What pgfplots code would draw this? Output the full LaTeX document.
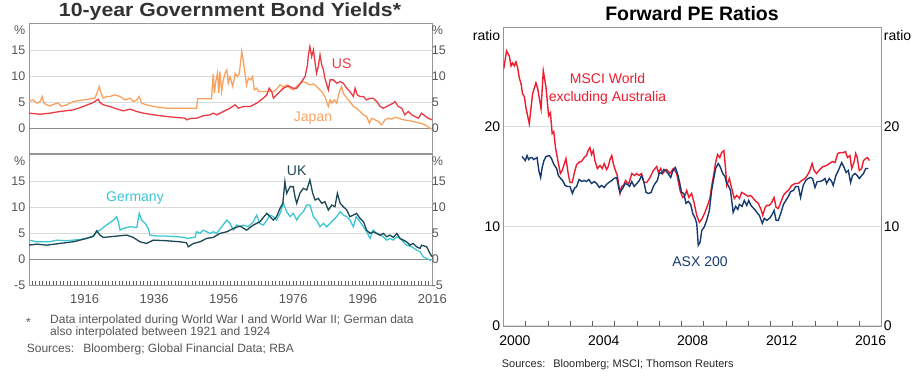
\documentclass[border=0pt]{standalone}
\usepackage{pgfplots}
\pgfplotsset{compat=1.18}
\usepackage{fontspec}
\setmainfont{Liberation Sans}
\definecolor{usred}{RGB}{234,58,66}
\definecolor{jporange}{RGB}{249,162,96}
\definecolor{decyan}{RGB}{60,198,210}
\definecolor{ukdark}{RGB}{28,72,86}
\definecolor{mscired}{RGB}{237,28,46}
\definecolor{asxblue}{RGB}{22,58,112}
\definecolor{framegray}{RGB}{150,150,150}
\definecolor{tickgray}{RGB}{95,95,95}
\definecolor{gridgray}{RGB}{218,218,218}
\definecolor{zerogray}{RGB}{140,140,140}
\definecolor{labgray}{RGB}{85,85,85}
\definecolor{titlegray}{RGB}{50,50,50}

\pgfplotsset{
  leftbase/.style={
    scale only axis, width=403.3pt, height=130.8pt,
    xmin=1900, xmax=2016, ymin=-5, ymax=20.3,
    axis line style={draw=framegray, line width=1pt},
    ytick={0,5,10,15},
    extra y ticks={19}, extra y tick labels={\%},
    extra y tick style={grid=none},
    ytick style={draw=none},
    tick label style={font=\fontsize{12.5}{14}\selectfont, text=labgray},
    yticklabel style={inner sep=0pt, xshift=-3.5pt},
    /pgf/number format/assume math mode=true,
  },
  leftright/.style={
    leftbase,
    axis line style={draw=none},
    xtick=\empty,
    yticklabel pos=right,
    yticklabel style={inner sep=0pt, xshift=2.8pt, anchor=west},
  },
}

\begin{document}
\begin{tikzpicture}
\path[use as bounding box] (0pt,0pt) rectangle (912pt,378pt);

% ---------------- Top-left panel: US and Japan
\begin{axis}[leftbase, at={(29pt,224pt)}, anchor=south west,
  xtick=\empty, ymajorgrids, grid style={draw=gridgray, line width=1pt}]
\draw[zerogray, line width=1pt] (axis cs:1900,0) -- (axis cs:2016,0);
\addplot[jporange, line width=1.3pt] coordinates {
(1900.0,5.15)(1901.2,5.47)(1902.2,4.83)(1903.2,5.15)(1903.8,6.12)(1904.3,4.83)
(1905.1,4.51)(1906.0,4.31)(1907.5,4.70)(1908.4,4.83)(1909.4,4.19)(1910.8,4.51)
(1912.8,5.15)(1915.6,5.47)(1919.0,5.80)(1919.7,7.08)(1920.2,8.05)(1920.7,6.76)
(1921.4,5.80)(1922.3,6.12)(1923.3,6.12)(1924.7,6.44)(1926.2,6.12)(1927.6,5.47)
(1929.1,5.80)(1930.0,5.15)(1931.0,5.47)(1931.7,6.12)(1932.4,4.83)(1933.8,4.51)
(1935.8,4.19)(1939.6,3.86)(1945.3,3.86)(1948.2,3.86)(1948.5,5.67)(1952.5,5.67)
(1953.0,10.50)(1953.3,6.76)(1953.8,9.34)(1954.2,10.62)(1954.6,6.76)(1954.9,10.95)
(1955.4,7.08)(1955.9,9.34)(1956.4,10.62)(1956.9,11.27)(1957.3,8.69)(1957.8,9.98)
(1958.6,8.05)(1959.3,10.62)(1959.9,9.98)(1960.5,10.62)(1961.2,14.81)(1961.6,13.20)
(1962.1,10.62)(1962.6,8.37)(1963.1,9.66)(1963.8,9.34)(1964.3,9.98)(1964.8,7.40)
(1965.5,7.73)(1966.0,7.08)(1966.4,7.08)(1968.4,7.08)(1970.3,7.08)(1971.2,7.53)
(1972.2,8.37)(1973.2,7.92)(1974.1,8.37)(1975.1,7.73)(1976.0,7.40)(1977.5,8.37)
(1978.9,9.01)(1979.9,8.69)(1980.8,8.37)(1981.8,8.56)(1982.7,8.05)(1983.2,7.73)
(1984.2,7.08)(1985.1,6.12)(1986.1,4.19)(1986.6,5.47)(1987.1,4.83)(1987.8,5.47)
(1988.5,4.83)(1989.3,7.08)(1989.9,8.05)(1990.4,6.76)(1991.4,5.80)(1992.3,5.15)
(1993.3,4.19)(1994.2,3.86)(1995.2,3.22)(1996.2,2.58)(1997.1,2.25)(1997.9,0.97)
(1998.6,1.93)(1999.5,1.61)(2000.5,1.29)(2001.4,0.64)(2002.4,1.61)(2003.4,1.93)
(2004.3,1.74)(2005.3,2.12)(2006.2,1.93)(2007.7,1.61)(2009.1,1.48)(2010.5,1.29)
(2012.5,0.97)(2013.9,0.64)(2015.3,0.00)(2016.0,-0.19)
};
\addplot[usred, line width=1.3pt] coordinates {
(1900.0,2.90)(1903.2,2.70)(1906.0,2.90)(1908.9,3.22)(1912.8,3.54)(1915.6,4.19)
(1918.5,4.96)(1919.9,5.60)(1920.4,4.96)(1921.4,4.51)(1923.3,4.19)(1925.2,3.73)
(1927.1,3.35)(1929.1,3.67)(1931.0,3.22)(1932.9,2.90)(1935.8,2.58)(1939.6,2.25)
(1942.5,2.06)(1944.9,1.93)(1945.3,1.61)(1946.8,1.93)(1948.2,1.93)(1950.1,2.38)
(1952.1,2.58)(1953.0,2.90)(1954.0,2.58)(1955.9,3.22)(1957.8,3.86)(1959.3,4.51)
(1960.2,3.86)(1961.7,4.19)(1963.6,4.19)(1965.5,4.83)(1967.4,5.80)(1968.4,6.44)
(1969.1,7.73)(1969.8,7.08)(1970.3,5.80)(1971.2,6.44)(1972.2,7.08)(1973.2,7.73)
(1974.6,8.18)(1976.0,7.73)(1977.0,7.73)(1978.4,9.01)(1979.4,9.98)(1980.1,12.23)
(1980.3,13.84)(1980.8,15.78)(1981.3,13.84)(1981.8,15.13)(1982.3,12.56)(1982.7,10.62)
(1983.2,11.91)(1983.7,14.17)(1984.2,12.23)(1984.7,11.27)(1985.1,9.66)(1986.1,7.40)
(1986.6,9.34)(1987.5,9.34)(1988.5,8.69)(1989.5,9.01)(1990.4,8.69)(1991.4,7.73)
(1992.3,7.08)(1993.3,6.12)(1993.8,7.73)(1994.4,6.44)(1995.2,6.12)(1996.2,6.12)
(1997.1,5.47)(1998.1,5.80)(1999.0,5.80)(2000.0,5.15)(2001.0,4.19)(2001.9,3.86)
(2002.9,4.19)(2003.8,4.51)(2004.8,4.83)(2005.3,5.15)(2006.2,4.19)(2007.2,3.86)
(2008.1,2.58)(2009.1,3.22)(2010.1,2.58)(2011.0,2.25)(2012.0,1.93)(2012.9,2.90)
(2013.9,2.38)(2014.8,1.93)(2016.0,1.61)
};
\end{axis}
\begin{axis}[leftright, at={(29pt,224pt)}, anchor=south west]
\end{axis}

% ---------------- Bottom-left panel: Germany and UK
\begin{axis}[leftbase, at={(29pt,93pt)}, anchor=south west,
  ytick={-5,0,5,10,15},
  ymajorgrids, grid style={draw=gridgray, line width=1pt},
  xtick={1916,1936,1956,1976,1996,2016},
  xtick style={draw=none},
  xticklabel style={inner sep=0pt, yshift=-9pt, font=\fontsize{13}{15}\selectfont},
  x tick label style={/pgf/number format/1000 sep={}},
]
\draw[zerogray, line width=1pt] (axis cs:1900,0) -- (axis cs:2016,0);
% yearly tick marks on the bottom axis
\addplot[only marks, mark=|, mark size=2pt, mark options={draw=tickgray, line width=1pt}] coordinates {
(1901,-4.61)(1902,-4.61)(1903,-4.61)(1904,-4.61)(1905,-4.61)(1906,-4.61)(1907,-4.61)(1908,-4.61)(1909,-4.61)(1910,-4.61)
(1911,-4.61)(1912,-4.61)(1913,-4.61)(1914,-4.61)(1915,-4.61)(1916,-4.61)(1917,-4.61)(1918,-4.61)(1919,-4.61)(1920,-4.61)
(1921,-4.61)(1922,-4.61)(1923,-4.61)(1924,-4.61)(1925,-4.61)(1926,-4.61)(1927,-4.61)(1928,-4.61)(1929,-4.61)(1930,-4.61)
(1931,-4.61)(1932,-4.61)(1933,-4.61)(1934,-4.61)(1935,-4.61)(1936,-4.61)(1937,-4.61)(1938,-4.61)(1939,-4.61)(1940,-4.61)
(1941,-4.61)(1942,-4.61)(1943,-4.61)(1944,-4.61)(1945,-4.61)(1946,-4.61)(1947,-4.61)(1948,-4.61)(1949,-4.61)(1950,-4.61)
(1951,-4.61)(1952,-4.61)(1953,-4.61)(1954,-4.61)(1955,-4.61)(1956,-4.61)(1957,-4.61)(1958,-4.61)(1959,-4.61)(1960,-4.61)
(1961,-4.61)(1962,-4.61)(1963,-4.61)(1964,-4.61)(1965,-4.61)(1966,-4.61)(1967,-4.61)(1968,-4.61)(1969,-4.61)(1970,-4.61)
(1971,-4.61)(1972,-4.61)(1973,-4.61)(1974,-4.61)(1975,-4.61)(1976,-4.61)(1977,-4.61)(1978,-4.61)(1979,-4.61)(1980,-4.61)
(1981,-4.61)(1982,-4.61)(1983,-4.61)(1984,-4.61)(1985,-4.61)(1986,-4.61)(1987,-4.61)(1988,-4.61)(1989,-4.61)(1990,-4.61)
(1991,-4.61)(1992,-4.61)(1993,-4.61)(1994,-4.61)(1995,-4.61)(1996,-4.61)(1997,-4.61)(1998,-4.61)(1999,-4.61)(2000,-4.61)
(2001,-4.61)(2002,-4.61)(2003,-4.61)(2004,-4.61)(2005,-4.61)(2006,-4.61)(2007,-4.61)(2008,-4.61)(2009,-4.61)(2010,-4.61)
(2011,-4.61)(2012,-4.61)(2013,-4.61)(2014,-4.61)(2015,-4.61)
};
\addplot[decyan, line width=1.3pt] coordinates {
(1900.0,3.68)(1902.2,3.36)(1906.0,3.36)(1908.0,3.68)(1910.8,3.56)(1914.7,3.81)
(1918.5,4.33)(1919.5,5.30)(1920.4,5.62)(1922.3,6.59)(1924.3,7.56)(1925.2,8.21)
(1925.7,7.24)(1926.2,5.62)(1927.1,5.95)(1929.1,6.27)(1931.0,6.14)(1931.7,8.86)
(1932.4,7.56)(1933.4,6.92)(1934.3,5.95)(1934.8,4.65)(1936.7,4.46)(1939.6,4.46)
(1942.5,4.33)(1944.9,4.20)(1945.3,4.01)(1947.7,4.20)(1948.2,5.30)(1949.2,4.98)
(1950.1,5.62)(1951.1,5.30)(1952.1,4.98)(1953.0,5.30)(1954.0,4.98)(1955.4,6.27)
(1956.9,7.56)(1957.8,6.92)(1958.8,5.62)(1959.7,6.59)(1960.7,6.27)(1961.6,6.59)
(1963.1,6.27)(1964.5,7.24)(1965.5,8.53)(1966.3,6.92)(1967.4,6.59)(1968.4,7.56)
(1969.3,8.53)(1970.3,8.21)(1971.2,7.56)(1972.2,8.86)(1973.2,10.80)(1974.1,9.18)
(1975.1,8.21)(1976.0,8.86)(1977.0,7.56)(1977.9,8.53)(1978.9,9.18)(1979.9,10.47)
(1980.8,10.47)(1981.8,8.21)(1982.7,7.56)(1983.7,6.27)(1984.7,6.92)(1985.6,6.27)
(1986.6,6.92)(1987.5,7.56)(1988.5,8.21)(1989.5,9.18)(1990.4,8.53)(1991.4,8.21)
(1992.3,7.56)(1993.3,6.27)(1994.1,8.21)(1995.2,7.24)(1996.2,6.27)(1997.1,5.30)
(1998.1,4.01)(1999.0,5.62)(2000.0,4.98)(2001.0,4.65)(2001.9,4.33)(2002.9,3.68)
(2003.8,4.01)(2004.8,3.68)(2005.8,4.33)(2006.7,4.01)(2007.7,3.36)(2008.6,2.71)
(2010.1,2.39)(2011.5,1.75)(2012.5,1.42)(2013.4,0.45)(2014.4,0.13)(2015.3,-0.19)
(2016.0,-0.06)
};
\addplot[ukdark, line width=1.3pt] coordinates {
(1900.0,2.71)(1902.2,2.91)(1905.1,2.71)(1908.9,3.04)(1912.8,3.36)(1916.6,4.01)
(1918.5,4.46)(1919.5,5.49)(1920.4,4.65)(1921.4,4.20)(1923.3,4.33)(1925.2,4.46)
(1928.1,4.65)(1930.0,4.20)(1931.9,3.36)(1933.8,3.04)(1935.8,3.68)(1939.6,3.56)
(1943.4,3.36)(1945.3,3.17)(1945.8,2.39)(1947.3,3.04)(1949.2,3.36)(1951.1,4.01)
(1953.0,4.20)(1954.9,4.98)(1956.9,5.30)(1958.8,5.95)(1960.7,6.40)(1962.6,5.62)
(1964.5,6.59)(1966.4,7.24)(1968.4,8.86)(1969.3,8.21)(1970.3,7.56)(1971.2,8.21)
(1972.2,9.83)(1973.0,10.80)(1973.6,15.00)(1974.1,12.73)(1975.1,14.03)(1976.0,14.03)
(1976.5,12.09)(1977.0,10.80)(1977.9,12.73)(1978.9,13.70)(1979.9,13.38)(1980.8,15.32)
(1981.6,12.73)(1982.3,11.44)(1983.2,11.76)(1984.2,10.80)(1985.1,11.12)(1986.1,9.50)
(1987.1,10.47)(1988.0,10.15)(1988.7,12.73)(1989.5,10.80)(1990.4,10.15)(1991.4,9.50)
(1992.3,8.21)(1993.3,8.53)(1994.2,8.86)(1995.2,7.89)(1996.2,7.24)(1997.1,5.62)
(1998.1,4.98)(1999.0,5.30)(2000.0,4.98)(2001.0,4.65)(2001.9,4.98)(2002.9,4.33)
(2003.8,4.65)(2004.8,4.20)(2005.8,4.98)(2006.7,4.01)(2007.7,3.68)(2008.6,3.36)
(2009.6,2.71)(2010.5,3.04)(2011.5,2.39)(2012.5,2.07)(2012.9,2.71)(2014.4,2.39)
(2015.3,1.10)(2016.0,0.45)
};
\end{axis}
\begin{axis}[leftright, at={(29pt,93pt)}, anchor=south west, ytick={-5,0,5,10,15}]
\end{axis}

% series labels (left)
\node[text=usred, font=\fontsize{14}{16}\selectfont] at (341.7pt,314.7pt) {US};
\node[text=jporange, font=\fontsize{14}{16}\selectfont] at (313pt,260pt) {Japan};
\node[text=decyan, font=\fontsize{14}{16}\selectfont] at (135pt,180pt) {Germany};
\node[text=ukdark, font=\fontsize{14}{16}\selectfont] at (296.7pt,207.3pt) {UK};

% left title and notes
\node[text=titlegray, font=\fontsize{19}{21}\selectfont\bfseries] at (230pt,366pt) {\scalebox{1.12}[1]{10-year Government Bond Yields*}};
\node[text=labgray, font=\fontsize{12}{13}\selectfont, anchor=center] at (28.5pt,56pt) {*};
\node[text=labgray, font=\fontsize{12}{13}\selectfont, anchor=west, inner sep=0pt] at (50pt,57.3pt) {Data interpolated during World War I and World War II; German data};
\node[text=labgray, font=\fontsize{12}{13}\selectfont, anchor=west, inner sep=0pt] at (50pt,45.3pt) {also interpolated between 1921 and 1924};
\node[text=labgray, font=\fontsize{12}{13}\selectfont, anchor=west, inner sep=0pt] at (26.7pt,28.7pt) {Sources:\hspace{9pt}Bloomberg; Global Financial Data; RBA};

% ---------------- Right panel: Forward PE ratios
\begin{axis}[scale only axis, at={(503.7pt,52pt)}, anchor=south west,
  width=378pt, height=299pt,
  xmin=2000, xmax=2017, ymin=0, ymax=30,
  axis line style={draw=framegray, line width=1pt},
  xtick={2000.5,2004.5,2008.5,2012.5,2016.5},
  xticklabels={2000,2004,2008,2012,2016},
  xtick style={draw=none},
  ytick={0,10,20}, ytick style={draw=none},
  extra y ticks={29.1}, extra y tick labels={ratio},
  extra y tick style={grid=none},
  ymajorgrids, grid style={draw=gridgray, line width=1.2pt},
  tick label style={font=\fontsize{14}{16}\selectfont, text=black},
  xticklabel style={inner sep=0pt, yshift=-10pt},
  yticklabel style={inner sep=0pt, xshift=-3.4pt},
  /pgf/number format/assume math mode=true,
]
% yearly tick marks on the bottom axis
\addplot[only marks, mark=|, mark size=2.6pt, mark options={draw=tickgray, line width=1pt}] coordinates {
(2001,0.26)(2002,0.26)(2003,0.26)(2004,0.26)(2005,0.26)(2006,0.26)(2007,0.26)(2008,0.26)
(2009,0.26)(2010,0.26)(2011,0.26)(2012,0.26)(2013,0.26)(2014,0.26)(2015,0.26)(2016,0.26)
};
\addplot[mscired, line width=1.4pt] coordinates {
(2000.00,25.8)(2000.13,27.6)(2000.25,27.1)(2000.33,26.1)(2000.40,26.4)(2000.48,26.1)
(2000.55,26.5)(2000.63,25.9)(2000.70,24.9)(2000.78,24.3)(2000.85,23.3)(2000.93,23.0)
(2001.00,21.9)(2001.15,20.3)(2001.23,21.9)(2001.30,23.3)(2001.45,24.4)(2001.53,23.8)
(2001.68,21.8)(2001.78,25.6)(2001.90,24.0)(2002.02,21.1)(2002.10,21.4)(2002.18,19.3)
(2002.25,19.5)(2002.33,17.9)(2002.46,16.3)(2002.55,15.3)(2002.63,15.6)(2002.80,16.8)
(2002.90,15.3)(2002.98,14.4)(2003.08,14.4)(2003.18,15.4)(2003.28,16.2)(2003.43,16.5)
(2003.50,16.5)(2003.62,16.9)(2003.72,17.1)(2003.80,17.6)(2003.88,17.9)(2003.95,17.2)
(2004.03,17.6)(2004.10,16.6)(2004.21,15.8)(2004.33,16.1)(2004.43,15.8)(2004.52,16.3)
(2004.63,15.7)(2004.70,16.0)(2004.78,16.7)(2004.86,17.1)(2004.93,16.3)(2005.01,15.7)
(2005.11,15.1)(2005.23,13.3)(2005.30,14.0)(2005.39,14.1)(2005.48,14.6)(2005.55,14.4)
(2005.63,14.3)(2005.76,15.3)(2005.88,15.1)(2005.98,15.3)(2006.08,15.1)(2006.20,15.3)
(2006.31,14.4)(2006.43,14.4)(2006.58,14.9)(2006.73,15.6)(2006.88,16.0)(2006.96,15.4)
(2007.06,15.8)(2007.15,15.3)(2007.26,15.6)(2007.33,15.7)(2007.48,15.3)(2007.63,15.8)
(2007.78,15.3)(2007.86,14.4)(2007.93,13.6)(2008.05,12.9)(2008.15,13.1)(2008.23,13.6)
(2008.33,12.9)(2008.45,13.3)(2008.56,12.4)(2008.68,11.1)(2008.80,10.4)(2008.93,10.8)
(2009.05,11.4)(2009.20,12.3)(2009.28,12.9)(2009.35,14.0)(2009.43,15.0)(2009.53,16.4)
(2009.62,17.2)(2009.72,16.9)(2009.80,17.4)(2009.90,17.6)(2009.98,15.8)(2010.03,14.1)
(2010.15,14.8)(2010.22,14.1)(2010.37,12.8)(2010.48,13.1)(2010.60,12.8)(2010.70,13.4)
(2010.78,13.3)(2010.93,13.1)(2011.00,13.0)(2011.08,13.1)(2011.15,13.0)(2011.30,12.6)
(2011.45,12.3)(2011.57,11.7)(2011.65,11.1)(2011.76,11.9)(2011.83,12.1)(2011.95,12.1)
(2012.05,12.4)(2012.16,12.9)(2012.25,11.9)(2012.35,11.8)(2012.46,12.4)(2012.58,13.1)
(2012.69,13.4)(2012.80,13.6)(2012.95,14.1)(2013.10,14.3)(2013.25,14.3)(2013.40,14.6)
(2013.55,14.8)(2013.65,15.1)(2013.77,15.6)(2013.87,16.3)(2013.96,15.6)(2014.07,15.3)
(2014.17,15.6)(2014.26,15.8)(2014.37,16.0)(2014.52,16.1)(2014.64,16.3)(2014.79,16.5)
(2014.90,16.4)(2015.02,17.3)(2015.12,17.4)(2015.27,17.4)(2015.37,17.5)(2015.46,16.9)
(2015.57,17.1)(2015.65,15.8)(2015.75,16.4)(2015.83,17.3)(2015.90,16.9)(2015.99,15.6)
(2016.10,15.8)(2016.18,16.6)(2016.28,16.8)(2016.36,16.9)(2016.44,16.6)
};
\addplot[asxblue, line width=1.4pt] coordinates {
(2000.82,17.0)(2000.90,16.8)(2000.97,16.6)(2001.05,17.1)(2001.12,16.7)(2001.20,16.9)
(2001.27,16.9)(2001.35,16.7)(2001.42,16.8)(2001.50,16.9)(2001.58,15.6)(2001.66,14.9)
(2001.73,15.9)(2001.81,16.6)(2001.90,17.0)(2002.05,17.1)(2002.15,16.8)(2002.26,16.2)
(2002.38,15.8)(2002.46,15.1)(2002.56,14.8)(2002.65,14.6)(2002.76,14.1)(2002.86,14.0)
(2002.98,14.0)(2003.09,13.3)(2003.18,13.8)(2003.28,14.0)(2003.39,14.7)(2003.51,14.5)
(2003.62,14.6)(2003.72,14.5)(2003.83,14.7)(2003.95,14.3)(2004.07,14.5)(2004.18,14.3)
(2004.30,13.9)(2004.40,14.1)(2004.52,13.9)(2004.62,14.2)(2004.73,14.4)(2004.86,14.6)
(2004.96,14.8)(2005.08,14.9)(2005.18,13.8)(2005.23,13.4)(2005.35,13.8)(2005.46,14.3)
(2005.57,14.2)(2005.66,14.0)(2005.76,14.5)(2005.87,14.0)(2005.99,14.3)(2006.10,14.6)
(2006.20,15.1)(2006.31,14.4)(2006.40,13.4)(2006.51,13.3)(2006.63,13.4)(2006.73,14.0)
(2006.81,14.3)(2006.91,14.6)(2007.00,15.4)(2007.11,15.3)(2007.20,15.7)(2007.29,15.6)
(2007.39,15.3)(2007.51,14.9)(2007.61,15.6)(2007.72,15.9)(2007.84,15.1)(2007.91,14.4)
(2008.00,13.4)(2008.10,13.3)(2008.20,12.3)(2008.30,12.5)(2008.41,12.2)(2008.50,11.3)
(2008.61,10.8)(2008.68,10.3)(2008.75,8.1)(2008.83,8.4)(2008.91,9.6)(2009.01,9.9)
(2009.13,10.6)(2009.25,11.6)(2009.35,13.6)(2009.43,14.6)(2009.53,15.8)(2009.65,16.3)
(2009.73,16.0)(2009.85,15.3)(2009.95,15.0)(2010.03,14.3)(2010.10,14.1)(2010.20,13.6)
(2010.32,11.4)(2010.43,12.0)(2010.53,11.7)(2010.60,12.2)(2010.72,12.0)(2010.82,12.6)
(2010.93,12.1)(2011.02,12.6)(2011.12,12.1)(2011.20,11.9)(2011.32,11.6)(2011.42,11.3)
(2011.50,11.1)(2011.63,10.3)(2011.72,10.8)(2011.83,10.6)(2011.95,10.8)(2012.05,11.1)
(2012.16,11.6)(2012.25,10.6)(2012.35,10.6)(2012.46,11.3)(2012.58,12.2)(2012.69,12.6)
(2012.80,13.0)(2012.91,13.5)(2013.03,13.6)(2013.13,14.0)(2013.25,14.0)(2013.35,12.9)
(2013.47,14.1)(2013.58,14.6)(2013.69,14.8)(2013.80,14.9)(2013.89,14.8)(2014.00,13.9)
(2014.10,14.5)(2014.22,14.5)(2014.34,14.6)(2014.45,14.8)(2014.52,14.3)(2014.64,14.8)
(2014.75,14.5)(2014.82,14.1)(2014.94,15.1)(2015.05,15.6)(2015.20,16.4)(2015.31,15.9)
(2015.40,15.4)(2015.50,15.6)(2015.60,14.4)(2015.69,15.1)(2015.80,15.3)(2015.90,15.1)
(2015.99,14.8)(2016.10,15.1)(2016.18,15.3)(2016.28,15.8)(2016.40,15.8)
};
\end{axis}
\begin{axis}[scale only axis, at={(503.7pt,52pt)}, anchor=south west,
  width=378pt, height=299pt,
  xmin=2000, xmax=2017, ymin=0, ymax=30,
  axis line style={draw=none}, xtick=\empty,
  ytick={0,10,20}, ytick style={draw=none},
  extra y ticks={29.1}, extra y tick labels={ratio},
  yticklabel pos=right,
  tick label style={font=\fontsize{14}{16}\selectfont, text=black},
  yticklabel style={inner sep=0pt, xshift=2pt, anchor=west},
  /pgf/number format/assume math mode=true,
]
\end{axis}

\node[text=mscired, font=\fontsize{14}{18}\selectfont, align=center] at (607.5pt,289.5pt) {MSCI World\\excluding Australia};
\node[text=asxblue, font=\fontsize{14}{16}\selectfont] at (700pt,116.3pt) {ASX 200};
\node[font=\fontsize{19.5}{21}\selectfont\bfseries] at (692pt,364pt) {Forward PE Ratios};
\node[text=black!85, font=\fontsize{11}{12}\selectfont, anchor=west, inner sep=0pt] at (501.7pt,13pt) {Sources:\hspace{8pt}Bloomberg; MSCI; Thomson Reuters};
\end{tikzpicture}
\end{document}
